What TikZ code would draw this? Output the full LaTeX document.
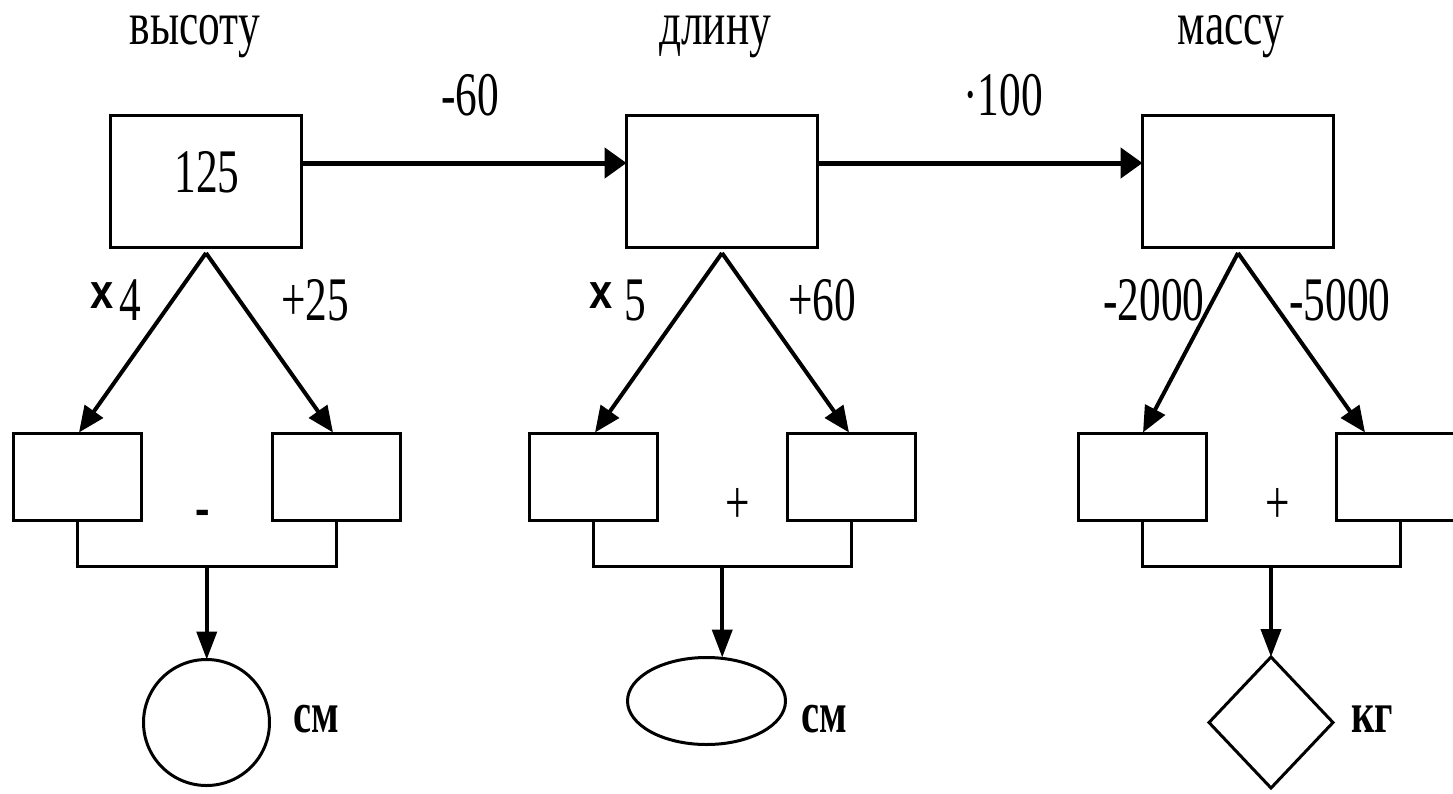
\documentclass[tikz,border=0pt]{standalone}
\usepackage{graphicx}
\usepackage{fontspec}
\setmainfont{Liberation Serif}
\newfontfamily\sansx{Liberation Sans}
\usetikzlibrary{arrows.meta,shapes.geometric,calc}
\newcommand{\sx}[1]{\scalebox{0.7}[1]{#1}}
\newcommand{\tms}{\raisebox{12pt}{\scalebox{0.85}[1]{\sansx\bfseries\fontsize{49}{49}\selectfont x}}}
\begin{document}
\begin{tikzpicture}[x=1pt,y=-1pt,
 box/.style={draw,line width=3pt,minimum width=191pt,minimum height=132pt,inner sep=0pt,outer sep=0pt},
 sbox/.style={draw,line width=3pt,minimum width=128pt,minimum height=87pt,inner sep=0pt,outer sep=0pt},
 lbl/.style={inner sep=0pt,anchor=base,font=\fontsize{62}{62}\selectfont},
 unitlbl/.style={inner sep=0pt,anchor=base,font=\fontsize{58}{58}\selectfont\bfseries},
 harrow/.style={line width=5pt,-{Triangle[length=22pt,width=30pt]}},
 barrow/.style={line width=4pt,-{Triangle[length=26pt,width=22pt]}},
 darrow/.style={line width=4pt,-{Triangle[length=28pt,width=20pt]}},
 bracket/.style={line width=3pt},
 result/.style={draw,line width=3pt,inner sep=0pt,outer sep=0pt},
]
\useasboundingbox (0,0) rectangle (1453,793);
\clip (0,0) rectangle (1453,793);

% titles
\node[lbl] (t1) at (195,44) {\sx{высоту}};
\node[lbl] (t2) at (715,44) {\sx{длину}};
\node[lbl] (t3) at (1231,44) {\sx{массу}};

% top boxes
\node[box] (b1) at (206,181.5) {};
\node[box] (b2) at (722,181.5) {};
\node[box] (b3) at (1238,181.5) {};
\node[lbl] (v1) at (207,192) {\sx{125}};

% horizontal arrows
\draw[harrow] ([yshift=18.5pt]b1.east) -- ([yshift=18.5pt]b2.west);
\draw[harrow] ([yshift=18.5pt]b2.east) -- ([yshift=18.5pt]b3.west);
\node[lbl] (o12) at (470,115) {\sx{-60}};
\node[lbl] (o23) at (1003,115) {\sx{·100}};

% small boxes
\node[sbox] (l1) at (77.5,477) {};
\node[sbox] (r1) at (336,477) {};
\node[sbox] (l2) at (593,477) {};
\node[sbox] (r2) at (851.5,477) {};
\node[sbox] (l3) at (1142,477) {};
\node[sbox] (r3) at (1400,477) {};

% apexes
\coordinate (a1) at ([yshift=-5.5pt]b1.south);
\coordinate (a2) at ([yshift=-5.5pt]b2.south);
\coordinate (a3) at ([yshift=-5.5pt]b3.south);

\draw[barrow] (a1) -- ([xshift=1.5pt,yshift=1pt]l1.north);
\draw[barrow] (a1) -- ([xshift=-3pt,yshift=1pt]r1.north);
\draw[barrow] (a2) -- ([xshift=2pt,yshift=1pt]l2.north);
\draw[barrow] (a2) -- ([xshift=-2.5pt,yshift=1pt]r2.north);
\draw[barrow] (a3) -- ([xshift=1pt,yshift=1pt]l3.north);
\draw[barrow] (a3) -- ([xshift=-35pt,yshift=1pt]r3.north);

% branch labels
\node[lbl,anchor=base west] (k1) at (90,320) {\tms\hspace{6pt}\sx{4}};
\node[lbl] (p1) at (315,320) {\sx{+25}};
\node[lbl,anchor=base west] (k2) at (589,320) {\tms\hspace{12pt}\sx{5}};
\node[lbl] (p2) at (822,320) {\sx{+60}};
\node[lbl] (k3) at (1154,320) {\sx{-2000}};
\node[lbl] (p3) at (1340,320) {\sx{-5000}};

% brackets
\coordinate (m1) at ($(l1.south)!0.5!(r1.south)+(0,45.5)$);
\coordinate (m2) at ($(l2.south)!0.5!(r2.south)+(0,45.5)$);
\coordinate (m3) at ($(l3.south)!0.5!(r3.south)+(0,45.5)$);
\draw[bracket] (l1.south) |- (m1) -| (r1.south);
\draw[bracket] (l2.south) |- (m2) -| (r2.south);
\draw[bracket] (l3.south) |- (m3) -| (r3.south);

% operation signs
\node[lbl,font=\fontsize{62}{62}\selectfont\bfseries] (s1) at (203,527) {\sx{-}};
\node[lbl] (s2) at (738,523) {\sx{+}};
\node[lbl] (s3) at (1278,523) {\sx{+}};

% results
\node[result,circle,minimum size=126pt] (c1) at (206.5,722.5) {};
\node[result,ellipse,minimum width=158pt,minimum height=87pt] (e2) at (706.5,701) {};
\node[result,diamond,minimum width=124pt,minimum height=131pt] (d3) at (1271,722.5) {};

\draw[darrow] (m1) -- (m1 |- c1.north);
\draw[darrow] (m2) -- (m2 |- e2.north);
\draw[darrow] (m3) -- (m3 |- d3.north);

% units
\node[unitlbl] (u1) at (316,732) {\sx{см}};
\node[unitlbl] (u2) at (824,732) {\sx{см}};
\node[unitlbl] (u3) at (1372,732) {\sx{кг}};
\end{tikzpicture}
\end{document}
